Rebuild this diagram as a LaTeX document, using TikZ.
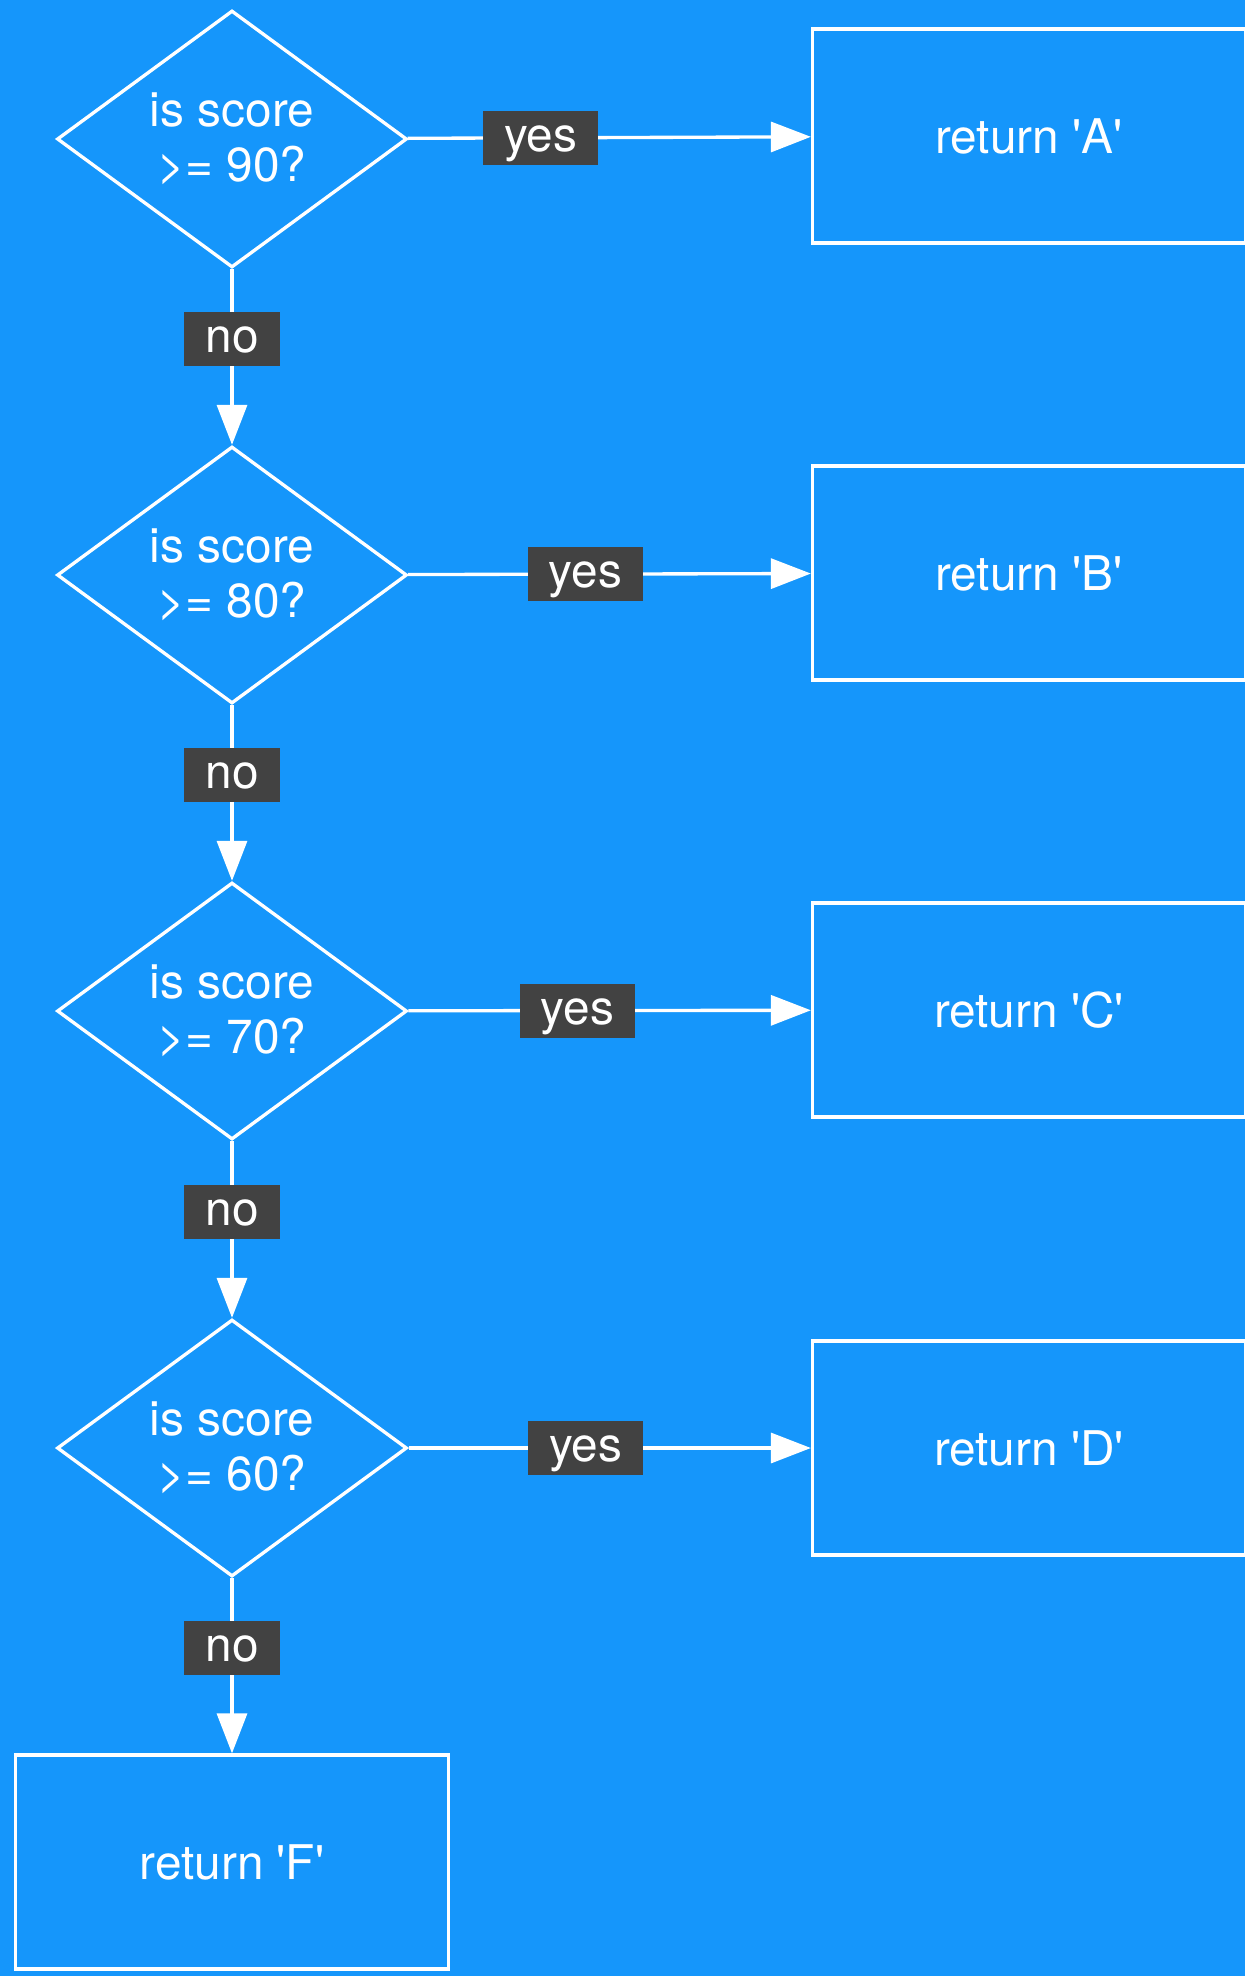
\documentclass[tikz,border=0pt]{standalone}
\usepackage{fontspec}
\setmainfont{TeX Gyre Heros}
\usetikzlibrary{shapes.geometric, arrows.meta}
\definecolor{bgblue}{HTML}{1596FB}
\definecolor{tagfill}{HTML}{424242}
\newcommand{\qt}{\textquotesingle}
\newcommand{\flowfont}{\fontsize{27.2}{31.3}\selectfont}
\tikzset{>={Triangle[length=0.8cm, width=0.6cm]}}
\tikzset{
	decision/.style = {draw=white, line width=1.9pt, shape=diamond, aspect=1.362,
		minimum width=7cm, minimum height=5.14cm, inner sep=0pt,
		text=white, align=center, font=\flowfont},
	result/.style = {draw=white, line width=1.9pt, rectangle,
		minimum width=8.66cm, minimum height=4.28cm, text=white, font=\flowfont},
	tag/.style = {fill=tagfill, text=white, inner xsep=0.42cm, inner ysep=0pt,
		text height=0.81cm, text depth=0.27cm, font=\flowfont},
	flow/.style = {draw=white, line width=1.9pt, ->}
}

\begin{document}
\begin{tikzpicture}[x=0.02cm, y=0.02cm]
	\useasboundingbox (0,0) rectangle (1245,-1976);
	\fill[bgblue] (0,0) rectangle (1245,-1976);

	% questions
	\node (q90) at (232,-139) [decision] {is score\\>= 90?};
	\node (q80) at (232,-575) [decision] {is score\\>= 80?};
	\node (q70) at (232,-1011) [decision] {is score\\>= 70?};
	\node (q60) at (232,-1448) [decision] {is score\\>= 60?};

	% results
	\node (ra) at (1029,-136) [result] {return \qt A\qt};
	\node (rb) at (1029,-573) [result] {return \qt B\qt};
	\node (rc) at (1029,-1010) [result] {return \qt C\qt};
	\node (rd) at (1029,-1448) [result] {return \qt D\qt};
	\node (rf) at (232,-1862) [result] {return \qt F\qt};

	% yes branches
	\draw[flow] (q90) -- node[tag, pos=0.33] (yes90) {yes} (ra);
	\draw[flow] (q80) -- node[tag, pos=0.44] (yes80) {yes} (rb);
	\draw[flow] (q70) -- node[tag, pos=0.42] (yes70) {yes} (rc);
	\draw[flow] (q60) -- node[tag, pos=0.44] (yes60) {yes} (rd);

	% no branches
	\draw[flow] (q90) -- node[tag, pos=0.4] (no90) {no} (q80);
	\draw[flow] (q80) -- node[tag, pos=0.4] (no80) {no} (q70);
	\draw[flow] (q70) -- node[tag, pos=0.4] (no70) {no} (q60);
	\draw[flow] (q60) -- node[tag, pos=0.4] (no60) {no} (rf);
\end{tikzpicture}
\end{document}
